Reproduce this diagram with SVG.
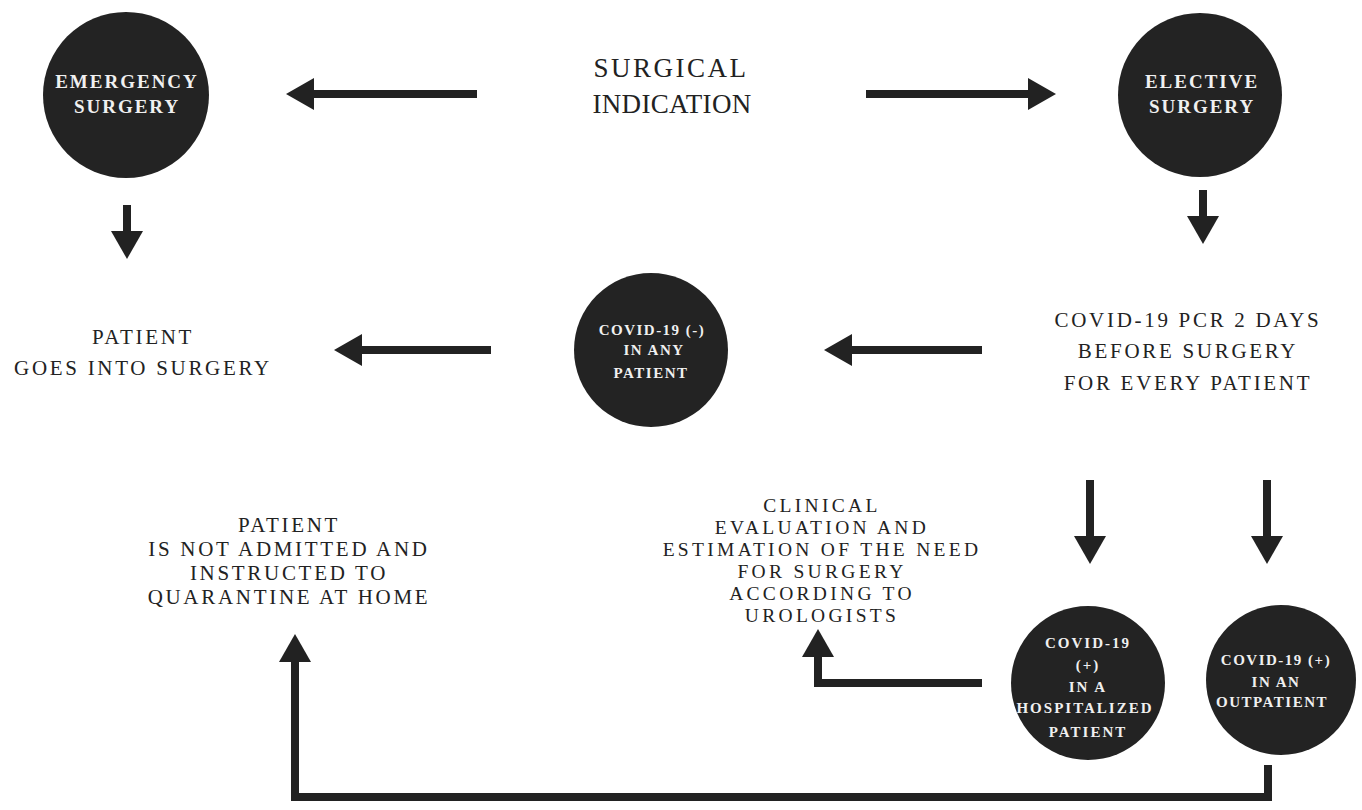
<svg xmlns="http://www.w3.org/2000/svg" width="1362" height="810" viewBox="0 0 1362 810">
<style>
.c{fill:#232323}
.ct{font-family:"Liberation Serif","Times New Roman",serif;font-weight:bold;fill:#f0f0f0;text-anchor:middle;letter-spacing:1.5px;font-size:15px}
.big{font-size:19px;letter-spacing:2px}
.t{font-family:"Liberation Serif","Times New Roman",serif;fill:#222222;text-anchor:middle;letter-spacing:2.7px;font-size:21px}
.sm{font-size:19.5px;letter-spacing:3.3px}
.ti{font-family:"Liberation Serif","Times New Roman",serif;fill:#222222;text-anchor:middle;font-size:27px}
.a{fill:none;stroke:#222222;stroke-width:8;stroke-linejoin:miter;marker-end:url(#ah)}
</style>
<defs>
<marker id="ah" viewBox="0 0 28 32" markerWidth="28" markerHeight="32" refX="1" refY="16" orient="auto" markerUnits="userSpaceOnUse">
<path d="M0,0 L28,16 L0,32 Z" fill="#222222"/>
</marker>
</defs>
<rect width="1362" height="810" fill="#ffffff"/>
<g id="connectors">
<path class="a" d="M477,94 L313,94"/>
<path class="a" d="M866,94 L1029,94"/>
<path class="a" d="M127,205 L127,232"/>
<path class="a" d="M1203,190 L1203,217"/>
<path class="a" d="M491,350 L361,350"/>
<path class="a" d="M982,350 L851,350"/>
<path class="a" d="M1090,480 L1090,537"/>
<path class="a" d="M1267,480 L1267,537"/>
<path class="a" d="M982,683 L818,683 L818,656"/>
<path class="a" d="M1268,765 L1268,797 L295,797 L295,661"/>
</g>
<g id="surgical-indication">
<text class="ti" x="671" y="77" style="letter-spacing:2.5px">SURGICAL</text>
<text class="ti" x="672" y="113" style="letter-spacing:0.3px">INDICATION</text>
</g>
<g id="emergency-surgery">
<circle class="c" cx="126" cy="95" r="83"/>
<text class="ct big" x="127" y="88">EMERGENCY</text>
<text class="ct big" x="127" y="113">SURGERY</text>
</g>
<g id="elective-surgery">
<circle class="c" cx="1200" cy="95" r="82"/>
<text class="ct big" x="1202" y="88">ELECTIVE</text>
<text class="ct big" x="1202" y="113">SURGERY</text>
</g>
<g id="patient-goes-into-surgery">
<text class="t" x="143" y="344">PATIENT</text>
<text class="t" x="143" y="375">GOES INTO SURGERY</text>
</g>
<g id="covid-negative">
<circle class="c" cx="651" cy="350" r="77"/>
<text class="ct" x="652" y="335">COVID-19  (-)</text>
<text class="ct" x="654" y="355">IN ANY</text>
<text class="ct" x="651" y="378">PATIENT</text>
</g>
<g id="pcr-test">
<text class="t" x="1188" y="327">COVID-19 PCR 2 DAYS</text>
<text class="t" x="1188" y="358">BEFORE SURGERY</text>
<text class="t" x="1188" y="390">FOR EVERY PATIENT</text>
</g>
<g id="patient-not-admitted">
<text class="t" x="289" y="532">PATIENT</text>
<text class="t" x="289" y="556">IS NOT ADMITTED AND</text>
<text class="t" x="289" y="580">INSTRUCTED TO</text>
<text class="t" x="289" y="604">QUARANTINE AT HOME</text>
</g>
<g id="clinical-evaluation">
<text class="t sm" x="822" y="512">CLINICAL</text>
<text class="t sm" x="822" y="534">EVALUATION AND</text>
<text class="t sm" x="822" y="556">ESTIMATION OF THE NEED</text>
<text class="t sm" x="822" y="578">FOR SURGERY</text>
<text class="t sm" x="822" y="600">ACCORDING TO</text>
<text class="t sm" x="822" y="622">UROLOGISTS</text>
</g>
<g id="covid-positive-hospitalized">
<circle class="c" cx="1088" cy="683" r="77"/>
<text class="ct" x="1088" y="648" style="letter-spacing:2px">COVID-19</text>
<text class="ct" x="1088" y="670" style="letter-spacing:2px">(+)</text>
<text class="ct" x="1088" y="692" style="letter-spacing:2px">IN A</text>
<text class="ct" x="1085" y="713" style="letter-spacing:2px">HOSPITALIZED</text>
<text class="ct" x="1088" y="737" style="letter-spacing:2px">PATIENT</text>
</g>
<g id="covid-positive-outpatient">
<circle class="c" cx="1281" cy="680" r="75"/>
<text class="ct" x="1276" y="665">COVID-19 (+)</text>
<text class="ct" x="1276" y="687">IN AN</text>
<text class="ct" x="1272" y="707">OUTPATIENT</text>
</g>
</svg>
